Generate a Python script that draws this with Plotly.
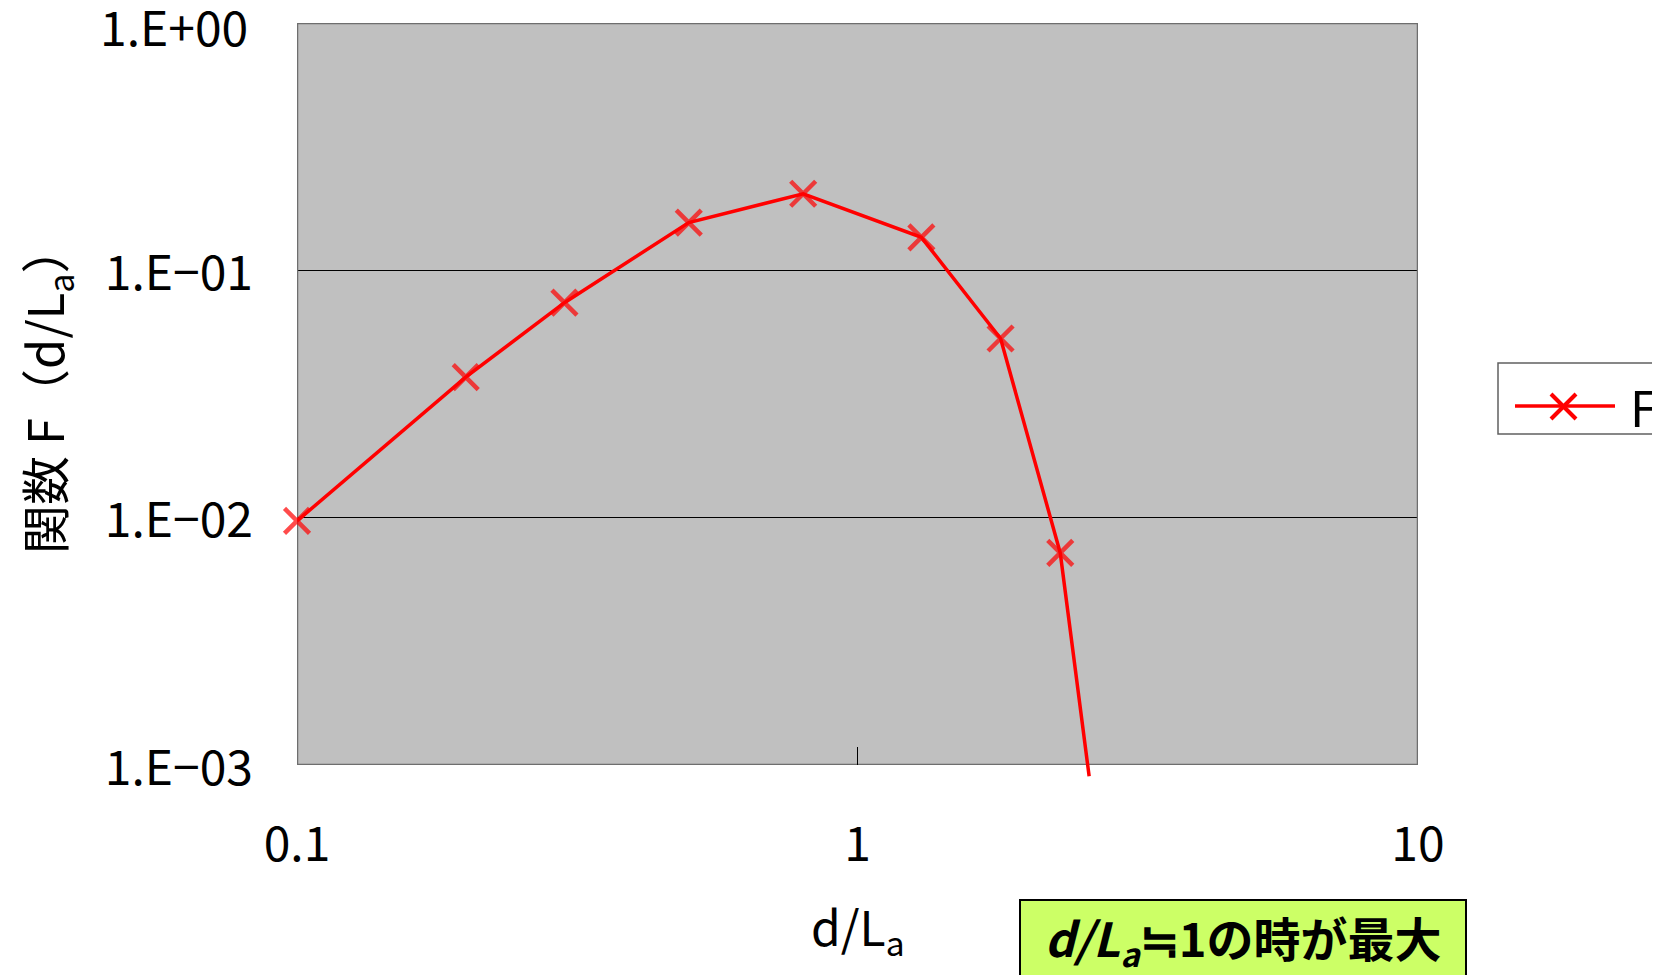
import math
import plotly.graph_objects as go

# ---- data ----
d_over_La = [0.1, 0.2, 0.3, 0.5, 0.8, 1.3, 1.8, 2.3, 2.59]
F_values = [0.0097, 0.037, 0.074, 0.156, 0.204, 0.136, 0.053, 0.0072, 0.0009]

x_tickvals = [0.1, 1, 10]
x_ticktext = ["0.1", "1", "10"]
y_tickvals = [1e-3, 1e-2, 1e-1, 1]
y_ticktext = ["1.E\u221203", "1.E\u221202", "1.E\u221201", "1.E+00"]

series_name = "F"
x_title = "d/L<sub>a</sub>"
y_title = "関数 F（d/L<sub>a</sub>）"
note_text = "<b><i>d/L<sub>a</sub></i>≒1の時が最大</b>"

# ---- layout geometry (screen pixels of the 1660x975 window) ----
OFF = 8                      # page body margin
W, H = 1660 - OFF, 975 - OFF  # figure size so the figure ends at the window edge
PL, PR, PT, PB = 297, 1418, 23, 765
EXT_B = 792  # lower edge of the clip region for the line (line runs past the frame)
decade_px = (PB - PT) / 3.0
y2_low = -(EXT_B - PT) / decade_px


def px_x(sx):
    return (sx - OFF) / W


def px_y(sy):
    return 1 - (sy - OFF) / H


FONT = "Noto Sans CJK JP"
RED = "#FF0000"
TICK_FONT = dict(size=48, family=FONT, color="black")

n = len(d_over_La)
marker_sizes = [25] * (n - 1) + [0]

fig = go.Figure()
fig.add_trace(go.Scatter(
    x=d_over_La, y=F_values, name=series_name,
    xaxis="x", yaxis="y2",
    mode="lines+markers",
    line=dict(color=RED, width=3.5),
    marker=dict(symbol="x-thin", size=marker_sizes, color=RED,
                line=dict(color=RED, width=4.5)),
    cliponaxis=False, showlegend=False,
))

shapes = [
    # plot area fill
    dict(type="rect", xref="x", yref="y", x0=0.1, x1=10, y0=1e-3, y1=1,
         fillcolor="#C0C0C0", line=dict(width=0), layer="below"),
    # plot area frame
    dict(type="rect", xref="x", yref="y", x0=0.1, x1=10, y0=1e-3, y1=1,
         fillcolor="rgba(0,0,0,0)", line=dict(color="#6E6E6E", width=2.5),
         layer="between"),
    # legend box
    dict(type="rect", xref="paper", yref="paper",
         x0=px_x(1498), x1=px_x(1680), y0=px_y(434), y1=px_y(363),
         fillcolor="white", line=dict(color="#606060", width=1.5)),
    # legend key line
    dict(type="line", xref="paper", yref="paper",
         x0=px_x(1515), x1=px_x(1615), y0=px_y(406), y1=px_y(406),
         line=dict(color=RED, width=3.5)),
    # legend key marker (x)
    dict(type="line", xref="paper", yref="paper",
         x0=px_x(1551), x1=px_x(1576), y0=px_y(394), y1=px_y(419),
         line=dict(color=RED, width=4)),
    dict(type="line", xref="paper", yref="paper",
         x0=px_x(1551), x1=px_x(1576), y0=px_y(419), y1=px_y(394),
         line=dict(color=RED, width=4)),
]

annotations = [
    # top y tick label (sits a little below its gridline in the reference)
    dict(text=y_ticktext[-1], xref="paper", yref="y",
         x=px_x(250), y=math.log10(y_tickvals[-1]), xanchor="right", yanchor="middle",
         yshift=-2, showarrow=False, font=TICK_FONT),
    dict(text=x_title, xref="paper", yref="paper",
         x=px_x((PL + PR) / 2), y=px_y(928), xanchor="center", yanchor="middle",
         showarrow=False, font=dict(size=48, family=FONT, color="black")),
    dict(text=y_title, xref="paper", yref="paper", textangle=-90,
         x=px_x(45), y=px_y(389), xanchor="center", yanchor="middle",
         showarrow=False, font=dict(size=49, family=FONT, color="black")),
    dict(text=series_name, xref="paper", yref="paper",
         x=px_x(1628), y=px_y(405), xanchor="left", yanchor="middle",
         showarrow=False, font=dict(size=49, family=FONT, color="black")),
    dict(text=note_text, xref="paper", yref="paper",
         x=px_x(1243), y=px_y(899), xanchor="center", yanchor="top",
         width=436, height=68, align="center", valign="middle",
         bgcolor="#CCFF66", bordercolor="black", borderwidth=2, borderpad=4,
         showarrow=False, font=dict(size=47, family=FONT, color="black")),
]

fig.update_layout(
    width=W, height=H,
    margin=dict(l=0, r=0, t=0, b=0, autoexpand=False),
    paper_bgcolor="white", plot_bgcolor="rgba(0,0,0,0)",
    font=dict(family=FONT, size=48, color="black"),
    showlegend=False,
    xaxis=dict(type="log", range=[-1, 1], domain=[px_x(PL), px_x(PR)], anchor="y",
               showline=False, showgrid=False, zeroline=False,
               tickmode="array", tickvals=x_tickvals, ticktext=x_ticktext,
               ticks="inside", ticklen=18, tickwidth=1, tickcolor="black",
               ticklabelstandoff=47, automargin=False, ticklabeloverflow="allow",
               tickfont=TICK_FONT),
    yaxis=dict(type="log", range=[-3, 0], domain=[px_y(PB), px_y(PT)], anchor="x",
               showline=False, showgrid=True, gridcolor="black", gridwidth=1,
               zeroline=False, ticks="", tickmode="array",
               tickvals=y_tickvals[:-1], ticktext=y_ticktext[:-1],
               ticklabelstandoff=43, ticklabelshift=3, automargin=False,
               ticklabeloverflow="allow", tickfont=TICK_FONT),
    yaxis2=dict(type="log", range=[y2_low, 0], domain=[px_y(EXT_B), px_y(PT)],
                anchor="x", visible=False, showgrid=False, zeroline=False),
    shapes=shapes,
    annotations=annotations,
)

fig.write_html("out.html")
